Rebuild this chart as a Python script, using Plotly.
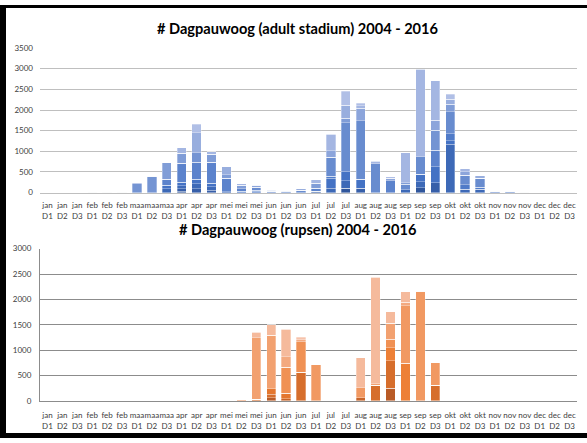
import plotly.graph_objects as go
from plotly.subplots import make_subplots

# decades per month: jan D1 .. dec D3
months = ["jan", "feb", "maa", "apr", "mei", "jun", "jul", "aug", "sep", "okt", "nov", "dec"]
decades = ["D1", "D2", "D3"]
categories = [f"{m}<br>{d}" for m in months for d in decades]

years = list(range(2004, 2017))

# adult stadium, one list per year (36 decades)
adult_2004 = [0, 0, 0, 0, 0, 0, 0, 0, 0, 40, 0, 0, 0, 0, 0, 0, 0, 0, 0, 0, 110, 0, 0, 0, 0, 120, 0, 0, 0, 0, 0, 0, 0, 0, 0, 0]
adult_2005 = [0, 0, 0, 0, 0, 0, 0, 0, 0, 60, 100, 60, 0, 0, 0, 0, 0, 0, 30, 0, 0, 110, 0, 0, 0, 0, 244, 0, 0, 0, 0, 0, 0, 0, 0, 0]
adult_2006 = [0, 0, 0, 0, 0, 0, 0, 0, 100, 70, 110, 80, 25, 0, 0, 0, 0, 0, 0, 110, 181, 0, 0, 0, 71, 148, 0, 1174, 87, 87, 0, 0, 0, 0, 0, 0]
adult_2007 = [0, 0, 0, 0, 0, 0, 0, 0, 85, 80, 110, 85, 0, 40, 30, 0, 0, 0, 0, 237, 213, 213, 0, 0, 0, 181, 378, 79, 0, 0, 0, 0, 0, 0, 0, 0]
adult_2008 = [0, 0, 0, 0, 0, 0, 0, 0, 0, 0, 0, 0, 0, 0, 30, 0, 0, 0, 0, 55, 0, 0, 0, 0, 0, 0, 0, 173, 102, 47, 0, 0, 0, 0, 0, 0]
adult_2009 = [0, 0, 0, 0, 0, 0, 0, 0, 137, 460, 410, 510, 320, 60, 0, 0, 0, 0, 80, 0, 0, 0, 0, 290, 0, 0, 410, 0, 0, 0, 0, 0, 0, 0, 0, 0]
adult_2010 = [0, 0, 3, 5, 6, 5, 0, 0, 0, 0, 0, 0, 0, 0, 70, 40, 25, 60, 0, 457, 1182, 1418, 700, 0, 134, 425, 0, 536, 236, 213, 35, 30, 10, 0, 0, 0]
adult_2011 = [0, 0, 0, 0, 0, 0, 220, 400, 0, 0, 240, 0, 0, 0, 0, 0, 0, 0, 0, 0, 0, 0, 0, 0, 0, 0, 481, 0, 0, 0, 0, 0, 0, 0, 0, 0]
adult_2012 = [0, 0, 0, 0, 0, 0, 0, 0, 403, 240, 0, 200, 90, 80, 0, 0, 0, 0, 120, 0, 118, 0, 0, 0, 40, 0, 0, 181, 0, 0, 0, 0, 0, 0, 0, 0]
adult_2013 = [0, 0, 0, 0, 0, 0, 0, 0, 0, 0, 0, 0, 0, 0, 50, 0, 0, 0, 0, 158, 0, 300, 0, 55, 0, 0, 236, 0, 79, 0, 0, 0, 0, 0, 0, 0]
adult_2014 = [0, 0, 0, 0, 0, 0, 0, 0, 0, 0, 485, 0, 195, 0, 0, 20, 10, 30, 0, 0, 315, 0, 0, 0, 0, 0, 0, 118, 0, 63, 0, 0, 0, 0, 0, 0]
adult_2015 = [0, 0, 0, 0, 0, 0, 25, 0, 0, 140, 0, 55, 0, 30, 0, 0, 0, 0, 85, 402, 0, 63, 65, 0, 717, 2112, 953, 0, 79, 0, 0, 0, 0, 0, 0, 0]
adult_2016 = [0, 0, 0, 0, 0, 0, 0, 15, 0, 0, 195, 0, 0, 0, 0, 0, 0, 0, 0, 0, 339, 55, 0, 40, 0, 0, 0, 118, 0, 0, 0, 0, 0, 0, 0, 0]

# rupsen, one list per year
rups_2004 = [0] * 15 + [65] + [0] * 7 + [245] + [0] * 12
rups_2005 = [0] * 16 + [45] + [0] * 4 + [65] + [0] * 14
rups_2006 = [0, 0, 0, 0, 0, 0, 0, 0, 0, 0, 0, 0, 0, 0, 30, 65, 0, 561, 0, 0, 0, 0, 303, 548, 0, 0, 303, 0, 0, 0, 0, 0, 0, 0, 0, 0]
rups_2007 = [0] * 15 + [110, 103] + [0] * 19
rups_2008 = [0] * 23 + [258, 742] + [0] * 11
rups_2009 = [0] * 36
rups_2010 = [0] * 16 + [510, 600] + [0] * 5 + [161] + [0] * 12
rups_2011 = [0, 0, 0, 0, 0, 0, 0, 0, 0, 0, 0, 0, 0, 0, 0, 0, 0, 0, 716, 0, 0, 194, 0, 0, 1129, 2160, 445, 0, 0, 0, 0, 0, 0, 0, 0, 0]
rups_2012 = [0, 0, 0, 0, 0, 0, 0, 0, 0, 0, 0, 0, 0, 20, 1215, 1058, 0, 0, 0, 0, 0, 0, 39, 316, 0, 0, 0, 0, 0, 0, 0, 0, 0, 0, 0, 0]
rups_2013 = [0] * 16 + [213, 45] + [0] * 6 + [71] + [0] * 11
rups_2014 = [0] * 36
rups_2015 = [0, 0, 0, 0, 0, 0, 0, 0, 0, 0, 0, 0, 0, 0, 110, 206, 542, 0, 0, 0, 0, 593, 2090, 232, 206, 0, 0, 0, 0, 0, 0, 0, 0, 0, 0, 0]
rups_2016 = [0] * 17 + [52] + [0] * 18

adult = [adult_2004, adult_2005, adult_2006, adult_2007, adult_2008, adult_2009, adult_2010,
         adult_2011, adult_2012, adult_2013, adult_2014, adult_2015, adult_2016]
rupsen = [rups_2004, rups_2005, rups_2006, rups_2007, rups_2008, rups_2009, rups_2010,
          rups_2011, rups_2012, rups_2013, rups_2014, rups_2015, rups_2016]


def shades(stops, n):
    # piecewise linear colour ramp, stops = [(pos, hex), ...]
    out = []
    for i in range(n):
        t = i / (n - 1)
        for (p0, c0), (p1, c1) in zip(stops, stops[1:]):
            if p0 <= t <= p1:
                f = (t - p0) / (p1 - p0)
                a = [int(c0[j:j + 2], 16) for j in (1, 3, 5)]
                b = [int(c1[j:j + 2], 16) for j in (1, 3, 5)]
                out.append("rgb(%d,%d,%d)" % tuple(round(x + (y - x) * f) for x, y in zip(a, b)))
                break
    return out


blues = shades([(0, "#30569C"), (0.25, "#4472C4"), (1, "#B0BFE6")], len(years))
oranges = shades([(0, "#B95B26"), (0.3, "#ED7D31"), (1, "#F6C2AA")], len(years))

fig = make_subplots(rows=2, cols=1)

for i, yr in enumerate(years):
    fig.add_trace(
        go.Bar(x=categories, y=adult[i], name=str(yr), marker_color=blues[i],
               marker_line=dict(color="rgba(255,255,255,0.6)", width=0.5)),
        row=1, col=1,
    )
    fig.add_trace(
        go.Bar(x=categories, y=rupsen[i], name=str(yr), marker_color=oranges[i],
               marker_line=dict(color="rgba(255,255,255,0.6)", width=0.5)),
        row=2, col=1,
    )

W, H = 587, 443
tick_font = dict(family="Lato", size=8, color="#404040")
xdom = [40 / W, 577 / W]

fig.update_layout(
    width=W,
    height=H,
    margin=dict(l=0, r=0, t=0, b=0),
    barmode="stack",
    bargap=0.37,
    showlegend=False,
    plot_bgcolor="#FFFFFF",
    paper_bgcolor="#FFFFFF",
    xaxis=dict(domain=xdom, tickfont=tick_font, tickangle=0, showgrid=False,
               showline=True, linecolor="#BFBFBF", linewidth=1, ticks="",
               ticklabelstandoff=5),
    yaxis=dict(domain=[1 - 192 / H, 1 - 44 / H], range=[0, 3500], dtick=500,
               tickfont=tick_font, gridcolor="#BFBFBF", gridwidth=1,
               zeroline=False, ticklabelstandoff=6),
    xaxis2=dict(domain=xdom, tickfont=tick_font, tickangle=0, showgrid=False,
                showline=True, linecolor="#8C8C8C", linewidth=1, ticks="",
                ticklabelstandoff=7),
    yaxis2=dict(domain=[1 - 405 / H, 1 - 249.3 / H], range=[0, 3000], dtick=500,
                tickfont=tick_font, gridcolor="#8C8C8C", gridwidth=1,
                zeroline=False, showline=True, linecolor="#8C8C8C", linewidth=1,
                ticklabelstandoff=6),
    annotations=[
        dict(text="<b># Dagpauwoog (adult stadium) 2004 - 2016</b>", x=298 / W, y=1 - 24 / H,
             xref="paper", yref="paper", showarrow=False, xanchor="center", yanchor="middle",
             font=dict(family="Lato", size=14.6, color="#000000")),
        dict(text="<b># Dagpauwoog (rupsen) 2004 - 2016</b>", x=298 / W, y=1 - 230 / H,
             xref="paper", yref="paper", showarrow=False, xanchor="center", yanchor="middle",
             font=dict(family="Lato", size=14.6, color="#000000")),
    ],
    shapes=[
        # black frame round the sheet
        dict(type="rect", xref="paper", yref="paper", x0=0, x1=1, y0=1 - 3 / H, y1=1,
             fillcolor="#000000", line_width=0),
        dict(type="rect", xref="paper", yref="paper", x0=0, x1=6 / W, y0=0, y1=1,
             fillcolor="#000000", line_width=0),
        dict(type="rect", xref="paper", yref="paper", x0=0, x1=1, y0=0, y1=5 / H,
             fillcolor="#000000", line_width=0),
    ],
)

# drop the browser's default page margin so the figure sits at the top-left corner
fig.write_html("out.html", config={"displayModeBar": False},
               post_script="document.body.style.margin='0';")
